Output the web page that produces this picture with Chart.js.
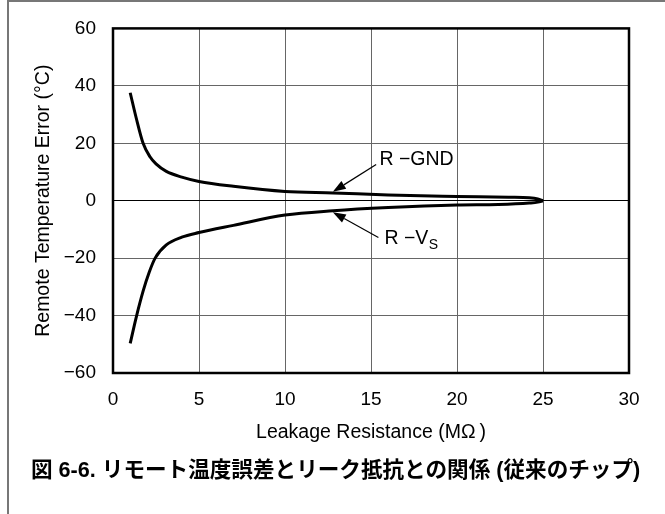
<!DOCTYPE html>
<html><head><meta charset="utf-8">
<script src="https://cdn.jsdelivr.net/npm/chart.js@4/dist/chart.umd.min.js"></script>
<style>
html,body{margin:0;padding:0;background:#fff;}
#wrap{position:relative;width:665px;height:514px;overflow:hidden;background:#fff;}
#frame{position:absolute;left:7px;top:0;width:658px;height:514px;border-left:2px solid #777;border-top:2px solid #777;box-sizing:border-box;}
canvas{position:absolute;left:0;top:0;}
#cap{position:absolute;left:31px;top:456px;font-family:"Liberation Sans","Noto Sans CJK JP",sans-serif;font-weight:bold;font-size:21.6px;white-space:nowrap;color:#000;line-height:28px;}
</style></head><body>
<div id="wrap"><div id="frame"></div><canvas id="c" width="665" height="514"></canvas>
<div id="cap">図 6-6. リモート温度誤差とリーク抵抗との関係 (従来のチップ)</div></div>
<script>
// ---- data ----
const xTicks = [0, 5, 10, 15, 20, 25, 30];
const yTicks = [-60, -40, -20, 0, 20, 40, 60];
const gndX = [1, 1.35, 1.75, 2.15, 2.5, 3.1, 4, 5, 7, 10, 12.8, 16, 20, 23, 24.2, 24.7, 25];
const gndY = [37.6, 28.8, 20, 15.3, 12.8, 10.2, 8.2, 6.7, 5.0, 3.2, 2.7, 2.0, 1.5, 1.2, 1.0, 0.6, 0];
const vsX = [1, 1.35, 1.75, 2.1, 2.45, 3.1, 4, 5, 7, 10, 12.8, 16, 20, 22.4, 24.2, 24.7, 25];
const vsY = [-49.7, -40.6, -31.5, -25, -20, -15.4, -12.7, -11.1, -8.6, -5.0, -3.5, -2.4, -1.5, -1.3, -0.8, -0.5, 0];
const seriesNames = ['R \u2212GND', 'R \u2212V'];
const seriesSubs = ['', 'S'];
const xTitle = 'Leakage Resistance (M\u03A9\u2009)';
const yTitle = 'Remote Temperature Error (\u00B0C)';

// annotation anchors (data coordinates)
const notes = [
  {label: [15.49, 14.3], tail: [15.30, 12.6], tip: [12.78, 3.1]},
  {label: [15.78, -13.2], tail: [15.43, -12.8], tip: [12.78, -4.0]}
];

const FAM = '"Liberation Sans", Arial, sans-serif';

const boxPlugin = {
  id: 'box',
  beforeDatasetsDraw(chart) {
    const {ctx, chartArea: a} = chart;
    ctx.save();
    ctx.strokeStyle = '#000';
    ctx.lineWidth = 2.5;
    ctx.strokeRect(a.left, a.top, a.right - a.left, a.bottom - a.top);
    ctx.restore();
  }
};

const notePlugin = {
  id: 'notes',
  afterDatasetsDraw(chart) {
    const {ctx, scales: {x, y}} = chart;
    ctx.save();
    notes.forEach((n, i) => {
      const tx = x.getPixelForValue(n.tail[0]), ty = y.getPixelForValue(n.tail[1]);
      const px = x.getPixelForValue(n.tip[0]), py = y.getPixelForValue(n.tip[1]);
      const ang = Math.atan2(py - ty, px - tx);
      const L = 13, W = 4.5;
      const bx = px - L * Math.cos(ang), by = py - L * Math.sin(ang);
      ctx.strokeStyle = '#000'; ctx.fillStyle = '#000'; ctx.lineWidth = 1.2;
      ctx.beginPath(); ctx.moveTo(tx, ty); ctx.lineTo(bx, by); ctx.stroke();
      ctx.beginPath();
      ctx.moveTo(px, py);
      ctx.lineTo(bx + W * Math.sin(ang), by - W * Math.cos(ang));
      ctx.lineTo(bx - W * Math.sin(ang), by + W * Math.cos(ang));
      ctx.closePath(); ctx.fill();
      const lx = x.getPixelForValue(n.label[0]), ly = y.getPixelForValue(n.label[1]);
      ctx.font = '19.5px ' + FAM; ctx.textAlign = 'left'; ctx.textBaseline = 'middle';
      ctx.fillText(seriesNames[i], lx, ly);
      if (seriesSubs[i]) {
        const w = ctx.measureText(seriesNames[i]).width;
        ctx.font = '14px ' + FAM;
        ctx.fillText(seriesSubs[i], lx + w + 0.5, ly + 6.5);
      }
    });
    ctx.restore();
  }
};

const mk = (xs, ys) => xs.map((v, i) => ({x: v, y: ys[i]}));
const lineStyle = {borderColor: '#000', borderWidth: 3, pointRadius: 0, showLine: true, fill: false, cubicInterpolationMode: 'monotone'};

new Chart(document.getElementById('c'), {
  type: 'scatter',
  data: {datasets: [
    Object.assign({label: seriesNames[0], data: mk(gndX, gndY)}, lineStyle),
    Object.assign({label: seriesNames[1] + seriesSubs[1], data: mk(vsX, vsY)}, lineStyle)
  ]},
  options: {
    responsive: false, animation: false, devicePixelRatio: 1,
    layout: {padding: {left: 32, top: 24, right: 36, bottom: 69.6}},
    plugins: {legend: {display: false}, tooltip: {enabled: false}},
    scales: {
      x: {
        type: 'linear', min: 0, max: 30,
        afterBuildTicks: s => { s.ticks = xTicks.map(v => ({value: v})); },
        ticks: {padding: 15, color: '#000', maxRotation: 0, font: {family: FAM, size: 19}},
        grid: {color: '#666', lineWidth: 1, drawTicks: false},
        border: {display: false},
        title: {display: true, text: xTitle, color: '#000', padding: 0, font: {family: FAM, size: 19.5}},
        afterFit: s => { s.height = 71.4; }
      },
      y: {
        type: 'linear', min: -60, max: 60,
        afterBuildTicks: s => { s.ticks = yTicks.map(v => ({value: v})); },
        ticks: {padding: 17, color: '#000', font: {family: FAM, size: 19},
          callback: v => v < 0 ? '\u2212' + Math.abs(v) : String(v)},
        grid: {color: c => (c.tick && c.tick.value === 0) ? '#000' : '#666', lineWidth: 1, drawTicks: false},
        border: {display: false},
        title: {display: true, text: yTitle, color: '#000', padding: 0, font: {family: FAM, size: 19.5}},
        afterFit: s => { s.width = 81; }
      }
    }
  },
  plugins: [boxPlugin, notePlugin]
});
</script>
</body></html>
